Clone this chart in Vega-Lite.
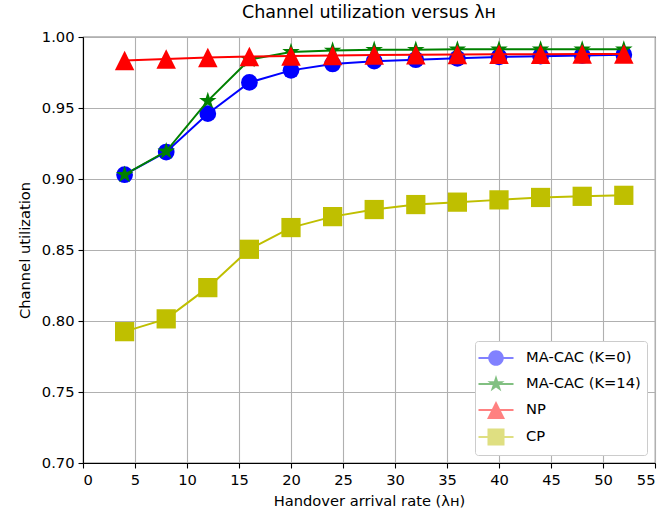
{
  "$schema": "https://vega.github.io/schema/vega-lite/v6.json",
  "width": 572,
  "height": 426,
  "autosize": {"type": "none"},
  "padding": {"left": 83, "top": 37, "right": 7, "bottom": 53},
  "background": "white",
  "title": {"text": "Channel utilization versus λн", "font": "DejaVu Sans", "fontSize": 17.5, "fontWeight": "normal", "color": "black", "offset": 8},
  "config": {
    "view": {"stroke": "black", "strokeWidth": 1.1},
    "axis": {
      "labelFont": "DejaVu Sans", "labelFontSize": 14.7, "labelColor": "black",
      "titleFont": "DejaVu Sans", "titleFontSize": 14.7, "titleColor": "black", "titleFontWeight": "normal",
      "domainColor": "black", "domainWidth": 1.1, "tickColor": "black", "tickSize": 5, "tickWidth": 1.1,
      "gridColor": "#b0b0b0", "gridWidth": 1.1, "gridOpacity": 1, "labelPadding": 4
    },
    "legend": {"labelFont": "DejaVu Sans", "labelFontSize": 14.7, "labelColor": "black"}
  },
  "data": {"values": [
    {"series": "MA-CAC (K=0)", "x": 4, "y": 0.903},
    {"series": "MA-CAC (K=0)", "x": 8, "y": 0.919},
    {"series": "MA-CAC (K=0)", "x": 12, "y": 0.946},
    {"series": "MA-CAC (K=0)", "x": 16, "y": 0.968},
    {"series": "MA-CAC (K=0)", "x": 20, "y": 0.9765},
    {"series": "MA-CAC (K=0)", "x": 24, "y": 0.981},
    {"series": "MA-CAC (K=0)", "x": 28, "y": 0.983},
    {"series": "MA-CAC (K=0)", "x": 32, "y": 0.984},
    {"series": "MA-CAC (K=0)", "x": 36, "y": 0.985},
    {"series": "MA-CAC (K=0)", "x": 40, "y": 0.986},
    {"series": "MA-CAC (K=0)", "x": 44, "y": 0.9865},
    {"series": "MA-CAC (K=0)", "x": 48, "y": 0.987},
    {"series": "MA-CAC (K=0)", "x": 52, "y": 0.9875},
    {"series": "MA-CAC (K=14)", "x": 4, "y": 0.903},
    {"series": "MA-CAC (K=14)", "x": 8, "y": 0.9195},
    {"series": "MA-CAC (K=14)", "x": 12, "y": 0.955},
    {"series": "MA-CAC (K=14)", "x": 16, "y": 0.984},
    {"series": "MA-CAC (K=14)", "x": 20, "y": 0.9895},
    {"series": "MA-CAC (K=14)", "x": 24, "y": 0.9905},
    {"series": "MA-CAC (K=14)", "x": 28, "y": 0.991},
    {"series": "MA-CAC (K=14)", "x": 32, "y": 0.991},
    {"series": "MA-CAC (K=14)", "x": 36, "y": 0.9913},
    {"series": "MA-CAC (K=14)", "x": 40, "y": 0.9913},
    {"series": "MA-CAC (K=14)", "x": 44, "y": 0.9913},
    {"series": "MA-CAC (K=14)", "x": 48, "y": 0.9913},
    {"series": "MA-CAC (K=14)", "x": 52, "y": 0.9913},
    {"series": "NP", "x": 4, "y": 0.9835},
    {"series": "NP", "x": 8, "y": 0.9845},
    {"series": "NP", "x": 12, "y": 0.9855},
    {"series": "NP", "x": 16, "y": 0.9862},
    {"series": "NP", "x": 20, "y": 0.9867},
    {"series": "NP", "x": 24, "y": 0.987},
    {"series": "NP", "x": 28, "y": 0.9873},
    {"series": "NP", "x": 32, "y": 0.9875},
    {"series": "NP", "x": 36, "y": 0.9877},
    {"series": "NP", "x": 40, "y": 0.9878},
    {"series": "NP", "x": 44, "y": 0.9879},
    {"series": "NP", "x": 48, "y": 0.988},
    {"series": "NP", "x": 52, "y": 0.988},
    {"series": "CP", "x": 4, "y": 0.7925},
    {"series": "CP", "x": 8, "y": 0.8015},
    {"series": "CP", "x": 12, "y": 0.8235},
    {"series": "CP", "x": 16, "y": 0.8505},
    {"series": "CP", "x": 20, "y": 0.8658},
    {"series": "CP", "x": 24, "y": 0.8735},
    {"series": "CP", "x": 28, "y": 0.8785},
    {"series": "CP", "x": 32, "y": 0.882},
    {"series": "CP", "x": 36, "y": 0.8837},
    {"series": "CP", "x": 40, "y": 0.8853},
    {"series": "CP", "x": 44, "y": 0.887},
    {"series": "CP", "x": 48, "y": 0.8878},
    {"series": "CP", "x": 52, "y": 0.8885}
  ]},
  "encoding": {
    "x": {"field": "x", "type": "quantitative", "scale": {"domain": [0, 55], "nice": false, "zero": false},
      "axis": {"values": [0, 5, 10, 15, 20, 25, 30, 35, 40, 45, 50, 55], "title": "Handover arrival rate (λн)", "titlePadding": 7}},
    "y": {"field": "y", "type": "quantitative", "scale": {"domain": [0.7, 1.0], "nice": false, "zero": false},
      "axis": {"values": [0.7, 0.75, 0.8, 0.85, 0.9, 0.95, 1.0], "format": ".2f", "title": "Channel utilization", "titlePadding": 9}}
  },
  "layer": [
    {"transform": [{"filter": "datum.series === 'MA-CAC (K=0)'"}],
     "mark": {"type": "line", "color": "#0000ff", "strokeWidth": 2, "clip": true, "point": {"filled": true, "color": "#0000ff", "size": 280, "shape": "circle", "opacity": 1}}},
    {"transform": [{"filter": "datum.series === 'MA-CAC (K=14)'"}],
     "mark": {"type": "line", "color": "#008000", "strokeWidth": 2, "clip": true, "point": {"filled": true, "color": "#008000", "size": 340, "opacity": 1, "shape": "M0,-1L0.2245,-0.309L0.9511,-0.309L0.3633,0.118L0.5878,0.809L0,0.382L-0.5878,0.809L-0.3633,0.118L-0.9511,-0.309L-0.2245,-0.309Z"}}},
    {"transform": [{"filter": "datum.series === 'NP'"}],
     "mark": {"type": "line", "color": "#ff0000", "strokeWidth": 2, "clip": true, "point": {"filled": true, "color": "#ff0000", "size": 380, "opacity": 1, "shape": "M0,-1L1,1L-1,1Z"}}},
    {"transform": [{"filter": "datum.series === 'CP'"}],
     "mark": {"type": "line", "color": "#bfbf00", "strokeWidth": 2, "clip": true, "point": {"filled": true, "color": "#bfbf00", "size": 370, "opacity": 1, "shape": "square"}}},
    {"mark": {"type": "point", "filled": true, "size": 400, "clip": true},
     "encoding": {
       "y": {"field": "x", "type": "quantitative"},
       "fill": {"field": "series", "type": "nominal",
         "scale": {"domain": ["MA-CAC (K=0)", "MA-CAC (K=14)", "NP", "CP"], "range": ["#0000ff", "#008000", "#ff0000", "#bfbf00"]},
         "legend": {"title": null, "orient": "bottom-right", "offset": 8, "padding": 6, "rowPadding": 3, "symbolSize": 400,
           "strokeColor": "#cccccc", "fillColor": "white", "cornerRadius": 3, "labelOffset": 19, "symbolOffset": 4}},
       "shape": {"field": "series", "type": "nominal",
         "scale": {"domain": ["MA-CAC (K=0)", "MA-CAC (K=14)", "NP", "CP"],
           "range": [
             "M-1.75,-0.1H1.75V0.1H-1.75ZM0.78,0A0.78,0.78,0,1,1,-0.78,0A0.78,0.78,0,1,1,0.78,0Z",
             "M-1.75,-0.1H1.75V0.1H-1.75ZM0,-0.9L0.202,-0.278L0.856,-0.278L0.327,0.106L0.529,0.728L0,0.344L-0.529,0.728L-0.327,0.106L-0.856,-0.278L-0.202,-0.278Z",
             "M-1.75,-0.1H1.75V0.1H-1.75ZM0,-0.9L0.9,0.9L-0.9,0.9Z",
             "M-1.75,-0.1H1.75V0.1H-1.75ZM-0.85,-0.85H0.85V0.85H-0.85Z"
           ]},
         "legend": {"title": null, "orient": "bottom-right", "offset": 8, "padding": 6, "rowPadding": 3, "symbolSize": 400,
           "strokeColor": "#cccccc", "fillColor": "white", "cornerRadius": 3, "labelOffset": 19, "symbolOffset": 4}}
     }}
  ]
}
